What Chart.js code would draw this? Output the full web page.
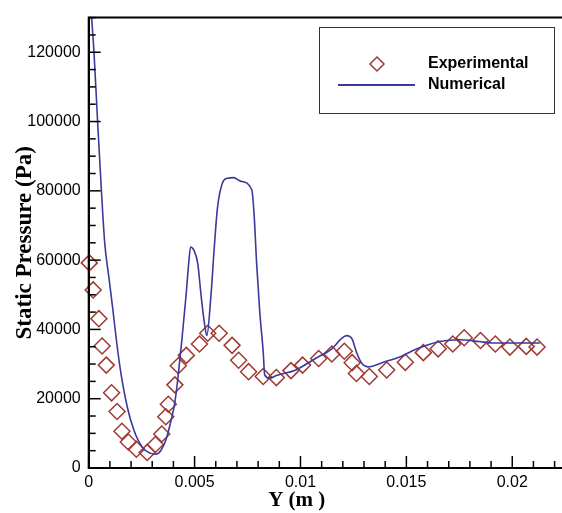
<!DOCTYPE html>
<html>
<head>
<meta charset="utf-8">
<script src="https://cdn.jsdelivr.net/npm/chart.js@4.4.1/dist/chart.umd.min.js"></script>
<style>
html,body{margin:0;padding:0;background:#fff;overflow:hidden;}
canvas{display:block;}
</style>
</head>
<body>
<canvas id="c" width="562" height="513"></canvas>
<script>
// ---- data ----
const expX = [0.00003,0.00021,0.00048,0.00063,0.00083,0.00108,0.00134,0.00157,0.00187,0.00225,0.00276,0.00315,0.00345,0.00364,0.00376,0.00407,0.00423,0.00461,0.00523,0.00562,0.00616,0.00677,0.00708,0.00755,0.00824,0.00886,0.00955,0.0101,0.01086,0.01148,0.01207,0.01244,0.01264,0.01325,0.01407,0.01495,0.0158,0.0165,0.01719,0.01773,0.0185,0.0192,0.01989,0.02066,0.02117];
const expY = [59200,51400,43100,35200,29700,21700,16300,10600,7500,5400,4500,6800,9800,14800,18400,24000,29500,32500,35800,38900,38900,35400,31100,27800,26400,26100,28100,29700,31600,32900,33700,30400,27300,26400,28300,30500,33300,34400,35800,37600,36800,35800,34900,35100,34900];

const numX = [0,0.00014,0.00025,0.00042,0.0006,0.00076,0.00095,0.00114,0.00132,0.00153,0.00183,0.00214,0.00253,0.0029,0.00318,0.0034,0.00364,0.0039,0.00407,0.00423,0.0044,0.0046,0.00472,0.00481,0.00497,0.00515,0.00531,0.00546,0.00558,0.00577,0.00593,0.00608,0.00631,0.00654,0.00685,0.00716,0.0077,0.00781,0.00793,0.00808,0.00824,0.00831,0.00855,0.00886,0.00978,0.0107,0.01148,0.01194,0.01218,0.01244,0.01264,0.0129,0.01318,0.01395,0.01472,0.01534,0.0158,0.01657,0.0175,0.01843,0.01904,0.0213];
const numY = [140000,129650,120000,100000,80000,64700,55200,45800,36300,27000,17400,10800,6000,4300,4000,5000,8000,14000,19000,27000,37000,50000,59000,63800,62800,59000,49600,42000,38200,49600,63700,75100,82200,83600,83800,82800,80300,73200,59000,44800,33500,26900,25900,26700,28300,31600,34400,37400,38200,37200,33500,30200,29200,30600,32100,34000,35100,36500,37000,36500,36100,36100];

const xTicks = [0, 0.005, 0.01, 0.015, 0.02];
const xTickLabels = ["0", "0.005", "0.01", "0.015", "0.02"];
const yTicks = [0, 20000, 40000, 60000, 80000, 100000, 120000];
const yTickLabels = ["0", "20000", "40000", "60000", "80000", "100000", "120000"];
const xMinorStep = 0.001;
const yMinorStep = 5000;
const seriesNames = ["Experimental", "Numerical"];
const xTitle = "Y (m )";
const yTitle = "Static Pressure (Pa)";

const LINE_COLOR = '#3a3a9c';
const MARK_COLOR = '#9e3a32';

const decor = {
  id: 'decor',
  afterDatasetsDraw(chart) {
    const ctx = chart.ctx, a = chart.chartArea;
    const xs = chart.scales.x, ys = chart.scales.y;
    ctx.save();
    ctx.strokeStyle = '#000';
    ctx.lineWidth = 1.5;
    const nx = Math.round(xs.max / xMinorStep);
    for (let i = 0; i <= nx; i++) {
      const v = i * xMinorStep;
      const px = xs.getPixelForValue(v);
      const major = xTicks.some(t => Math.abs(t - v) < 1e-9);
      const len = major ? 12 : 7;
      ctx.beginPath(); ctx.moveTo(px, a.bottom); ctx.lineTo(px, a.bottom - len); ctx.stroke();
    }
    const ny = Math.floor(ys.max / yMinorStep);
    for (let i = 0; i <= ny; i++) {
      const v = i * yMinorStep;
      const py = ys.getPixelForValue(v);
      const major = yTicks.indexOf(v) >= 0;
      const len = major ? 12 : 7;
      ctx.beginPath(); ctx.moveTo(a.left, py); ctx.lineTo(a.left + len, py); ctx.stroke();
    }
    ctx.lineWidth = 2;
    ctx.beginPath();
    ctx.moveTo(chart.width, a.top); ctx.lineTo(a.left, a.top);
    ctx.lineTo(a.left, a.bottom); ctx.lineTo(chart.width, a.bottom);
    ctx.stroke();
    ctx.restore();
  },
  afterDraw(chart) {
    const ctx = chart.ctx, a = chart.chartArea;
    ctx.save();
    ctx.fillStyle = '#000';
    ctx.font = 'bold 21px "Liberation Serif", "Times New Roman", serif';
    ctx.textAlign = 'center'; ctx.textBaseline = 'middle';
    ctx.fillText(xTitle, a.left + 208, 501);
    // legend
    ctx.fillStyle = '#fff';
    ctx.fillRect(319, 27, 235, 86);
    ctx.strokeStyle = '#333'; ctx.lineWidth = 1;
    ctx.strokeRect(319.5, 27.5, 235, 86);
    ctx.strokeStyle = MARK_COLOR; ctx.lineWidth = 1.5;
    ctx.beginPath();
    ctx.moveTo(377, 57); ctx.lineTo(384, 64); ctx.lineTo(377, 71); ctx.lineTo(370, 64); ctx.closePath();
    ctx.stroke();
    ctx.strokeStyle = LINE_COLOR; ctx.lineWidth = 2;
    ctx.beginPath(); ctx.moveTo(338, 85); ctx.lineTo(415, 85); ctx.stroke();
    ctx.fillStyle = '#000';
    ctx.font = 'bold 16px "Liberation Sans", Arial, sans-serif';
    ctx.textAlign = 'left';
    ctx.fillText(seriesNames[0], 428, 64);
    ctx.fillText(seriesNames[1], 428, 85);
    ctx.restore();
  }
};

new Chart(document.getElementById('c'), {
  type: 'scatter',
  data: {
    datasets: [
      {
        label: seriesNames[1],
        data: numX.map((x, i) => ({x: x, y: numY[i]})),
        showLine: true,
        borderColor: LINE_COLOR,
        borderWidth: 1.6,
        pointRadius: 0,
        cubicInterpolationMode: 'monotone',
        fill: false
      },
      {
        label: seriesNames[0],
        data: expX.map((x, i) => ({x: x, y: expY[i]})),
        showLine: false,
        pointStyle: 'rectRot',
        pointRadius: 8,
        borderColor: MARK_COLOR,
        backgroundColor: 'rgba(0,0,0,0)',
        borderWidth: 1.5,
        clip: false
      }
    ]
  },
  options: {
    responsive: false,
    animation: false,
    layout: { padding: { top: 11, right: 0, bottom: 0, left: 0 } },
    plugins: { legend: { display: false }, tooltip: { enabled: false } },
    scales: {
      x: {
        type: 'linear', min: 0, max: 0.0219,
        grid: { display: false, drawTicks: false },
        border: { display: true, color: '#000', width: 2 },
        afterBuildTicks: s => { s.ticks = xTicks.map(v => ({value: v})); },
        afterFit: s => { s.height = 45; },
        ticks: {
          color: '#000', padding: 5, maxRotation: 0, autoSkip: false,
          font: { family: '"Liberation Sans", Arial, sans-serif', size: 16 },
          callback: (v) => { const i = xTicks.indexOf(v); return i >= 0 ? xTickLabels[i] : ''; }
        }
      },
      y: {
        type: 'linear', min: 0, max: 130000,
        grid: { display: false, drawTicks: false },
        border: { display: true, color: '#000', width: 2 },
        afterBuildTicks: s => { s.ticks = yTicks.map(v => ({value: v})); },
        afterFit: s => { s.width = 88.7; },
        title: {
          display: true, text: yTitle, color: '#000',
          font: { family: '"Liberation Serif", "Times New Roman", serif', weight: 'bold', size: 23 },
          padding: { top: 11, bottom: 0 }
        },
        ticks: {
          color: '#000', padding: 8, autoSkip: false,
          font: { family: '"Liberation Sans", Arial, sans-serif', size: 16 },
          callback: (v) => { const i = yTicks.indexOf(v); return i >= 0 ? yTickLabels[i] : ''; }
        }
      }
    }
  },
  plugins: [decor]
});
</script>
</body>
</html>
